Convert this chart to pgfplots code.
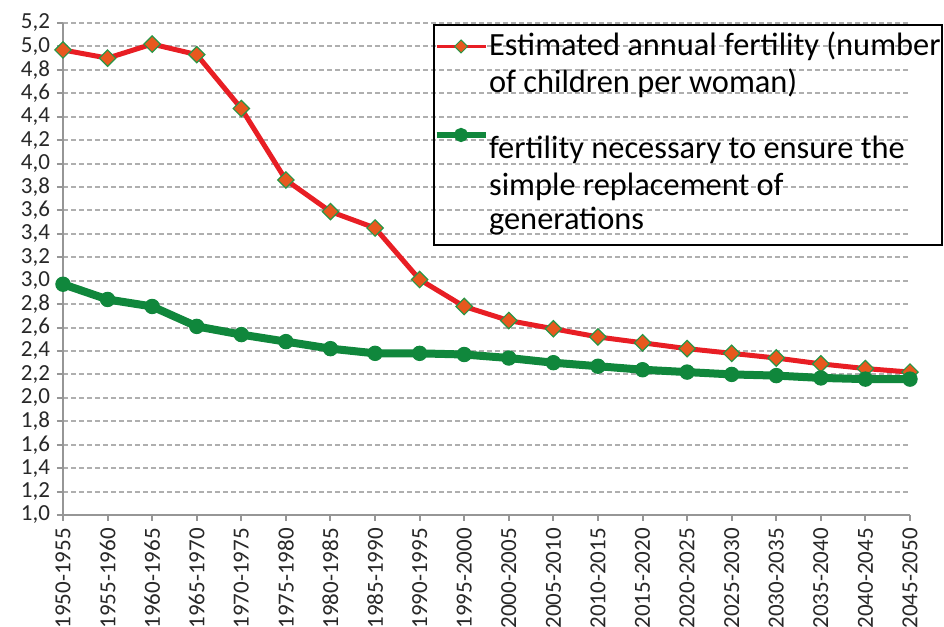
\documentclass[border=0pt]{standalone}
\usepackage{fontspec}
\setmainfont{Carlito}
\usepackage{pgfplots}
\pgfplotsset{compat=1.18}
\definecolor{redl}{RGB}{232,30,36}
\definecolor{orgmk}{RGB}{232,88,30}
\definecolor{grnmk}{RGB}{40,150,70}
\definecolor{greenl}{RGB}{16,135,60}
\definecolor{gridc}{RGB}{175,175,175}
\definecolor{axc}{RGB}{150,150,150}
\definecolor{txt}{RGB}{40,40,40}
\newcommand{\ls}{\rule[-4.5pt]{0pt}{18.5pt}}
\begin{document}
\begin{tikzpicture}
\path[use as bounding box] (-31.5pt,-56pt) rectangle (440.5pt,257.5pt);
\clip (-31.5pt,-56pt) rectangle (440.5pt,257.5pt);
\begin{axis}[
  at={(0pt,0pt)}, anchor=south west,
  scale only axis, width=423.5pt, height=246pt,
  xmin=0, xmax=19, ymin=1, ymax=5.2,
  axis x line*=bottom, axis y line*=left,
  axis line style={axc, line width=1pt, -},
  tick style={axc, line width=1pt},
  tick align=outside, major tick length=3pt,
  xtick={0,...,19},
  xticklabels={1950-1955,1955-1960,1960-1965,1965-1970,1970-1975,1975-1980,1980-1985,1985-1990,1990-1995,1995-2000,2000-2005,2005-2010,2010-2015,2015-2020,2020-2025,2025-2030,2030-2035,2035-2040,2040-2045,2045-2050},
  xticklabel style={rotate=90, anchor=east, font=\fontsize{11.5}{13}\selectfont, text=txt},
  ytick={1,1.2,1.4,1.6,1.8,2,2.2,2.4,2.6,2.8,3,3.2,3.4,3.6,3.8,4,4.2,4.4,4.6,4.8,5,5.2},
  yticklabel style={font=\fontsize{11.5}{13}\selectfont, text=txt,
    /pgf/number format/.cd, fixed, fixed zerofill, precision=1, use comma, assume math mode=true},
  ymajorgrids,
  major grid style={gridc, line width=1pt, dash pattern=on 2.5pt off 1.5pt},
  legend image code/.code={\draw[mark repeat=2, mark phase=2] plot coordinates {(0cm,0cm) (0.43cm,0cm) (0.86cm,0cm)};},
  legend cell align=left,
  legend style={at={(rel axis cs:0.4368,0.998)}, anchor=north west,
    draw=black, line width=1pt, fill=none,
    font=\fontsize{16.2}{18.5}\selectfont, row sep=0pt, column sep=0pt,
    inner xsep=0pt, inner ysep=1.5pt,
    nodes={inner ysep=0pt, inner xsep=0.5pt, text depth={}}},
]
\addplot[forget plot, color=redl, line width=2.5pt, mark=square*, mark size=2.9pt,
  mark options={rotate=45, fill=orgmk, draw=grnmk, line width=0.6pt, solid}]
coordinates {(0,4.97)(1,4.90)(2,5.02)(3,4.93)(4,4.47)(5,3.86)(6,3.59)(7,3.45)(8,3.01)(9,2.78)(10,2.66)(11,2.59)(12,2.52)(13,2.47)(14,2.42)(15,2.38)(16,2.34)(17,2.29)(18,2.25)(19,2.22)};
\addplot[forget plot, color=greenl, line width=4pt, mark=*, mark size=3.6pt,
  mark options={fill=greenl, draw=greenl, solid, line width=0.5pt}]
coordinates {(0,2.97)(1,2.84)(2,2.78)(3,2.61)(4,2.54)(5,2.48)(6,2.42)(7,2.38)(8,2.38)(9,2.37)(10,2.34)(11,2.30)(12,2.27)(13,2.24)(14,2.22)(15,2.20)(16,2.19)(17,2.17)(18,2.16)(19,2.16)};
\addlegendimage{color=redl, line width=1.6pt, mark=square*, mark size=2.3pt,
  mark options={rotate=45, fill=orgmk, draw=grnmk, line width=0.5pt, solid}}
\addlegendentry{\ls Estimated annual fertility (number\hspace{2pt}}
\addlegendimage{empty legend}
\addlegendentry{\ls of children per woman)}
\addlegendimage{color=greenl, line width=2.6pt, mark=*, mark size=2.2pt,
  mark options={fill=greenl, draw=greenl, solid}}
\addlegendentry{\rule[-4.5pt]{0pt}{33pt}fertility necessary to ensure the}
\addlegendimage{empty legend}
\addlegendentry{\ls simple replacement of}
\addlegendimage{empty legend}
\addlegendentry{\rule[-6pt]{0pt}{18.5pt}generations}
\end{axis}
\end{tikzpicture}
\end{document}
